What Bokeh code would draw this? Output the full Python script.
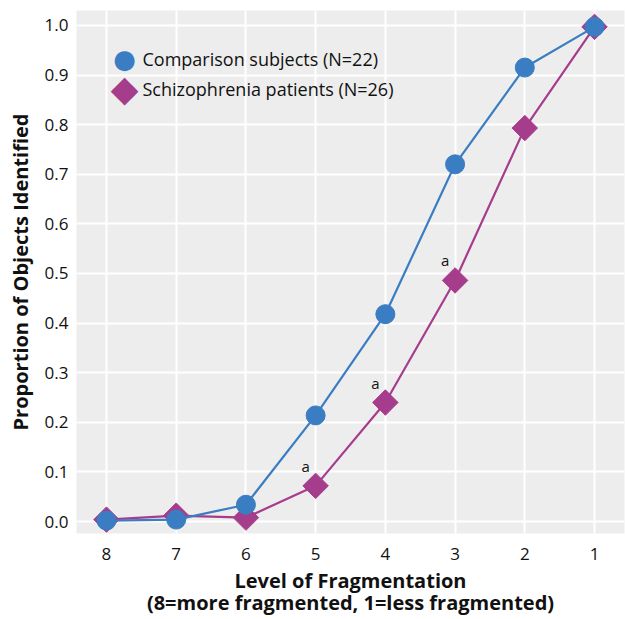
from bokeh.plotting import figure
from bokeh.models import Range1d, FixedTicker, NumeralTickFormatter, Label
from bokeh.core.properties import value
from bokeh.embed import file_html
from bokeh.resources import INLINE
import math

levels = [8, 7, 6, 5, 4, 3, 2, 1]
comparison = [0.002, 0.004, 0.034, 0.214, 0.418, 0.720, 0.915, 0.997]
schizophrenia = [0.004, 0.012, 0.008, 0.072, 0.240, 0.486, 0.793, 0.997]
sig_levels = [5, 4, 3]
sig_values = [0.072, 0.240, 0.486]
y_ticks = [0.0, 0.1, 0.2, 0.3, 0.4, 0.5, 0.6, 0.7, 0.8, 0.9, 1.0]
series_labels = ["Comparison subjects (N=22)", "Schizophrenia patients (N=26)"]

BLUE = "#3a7dc2"
PURPLE = "#a63c8c"
FONT = "Open Sans"
TXT = "#111111"

p = figure(width=625, height=619, output_backend="svg", toolbar_location=None,
           x_range=Range1d(8.43, 0.57), y_range=Range1d(-0.024, 1.03),
           min_border_left=76, min_border_right=1, min_border_top=10, min_border_bottom=84)

p.background_fill_color = "#ededed"
p.border_fill_color = "white"
p.outline_line_color = None
p.grid.grid_line_color = "white"
p.grid.grid_line_width = 2
p.xgrid.ticker = FixedTicker(ticks=levels)
p.ygrid.ticker = FixedTicker(ticks=y_ticks)

p.xaxis.ticker = FixedTicker(ticks=levels)
p.yaxis.ticker = FixedTicker(ticks=y_ticks)
p.yaxis.formatter = NumeralTickFormatter(format="0.0")
for ax in (p.xaxis, p.yaxis):
    ax.axis_line_color = None
    ax.major_tick_line_color = None
    ax.minor_tick_line_color = None
    ax.major_tick_out = 0
    ax.major_tick_in = 0
    ax.major_label_text_font = FONT
    ax.major_label_text_font_size = "17px"
    ax.major_label_text_color = TXT
    ax.axis_label_text_font = FONT
    ax.axis_label_text_font_style = "bold"
    ax.axis_label_text_font_size = "20px"
    ax.axis_label_text_color = TXT

p.yaxis.axis_label = "Proportion of Objects Identified"
p.yaxis.major_label_standoff = 8
p.yaxis.axis_label_standoff = 8
p.xaxis.axis_label = "Level of Fragmentation\n(8=more fragmented, 1=less fragmented)"
p.xaxis.axis_label_text_line_height = 0.85
p.xaxis.major_label_standoff = 14
p.xaxis.axis_label_standoff = 4

p.line(levels, schizophrenia, line_color=PURPLE, line_width=2.2)
p.scatter(levels, schizophrenia, marker="square", angle=math.pi / 4, size=18,
          fill_color=PURPLE, line_color=PURPLE)
p.line(levels, comparison, line_color=BLUE, line_width=2.2)
p.scatter(levels, comparison, marker="circle", size=19,
          fill_color=BLUE, line_color=BLUE)

p.text(sig_levels, sig_values, text=["a"] * len(sig_levels), x_offset=-10, y_offset=-20,
       text_font=value(FONT), text_font_size="15px", text_color=TXT,
       text_align="center", text_baseline="middle")

# legend (key symbols + labels), placed in screen units relative to the frame
for sym, col, fs, lab, yy in [("\u25cf", BLUE, "26px", series_labels[0], 475),
                              ("\u25c6", PURPLE, "36px", series_labels[1], 445)]:
    p.add_layout(Label(x=48, y=yy, x_units="screen", y_units="screen", text=sym,
                       text_color=col, text_font="DejaVu Sans", text_font_size=fs,
                       text_align="center", text_baseline="middle"))
    p.add_layout(Label(x=66, y=yy, x_units="screen", y_units="screen", text=lab,
                       text_color=TXT, text_font=FONT, text_font_size="18px",
                       text_align="left", text_baseline="middle"))

open("out.html", "w").write(file_html(p, INLINE))
